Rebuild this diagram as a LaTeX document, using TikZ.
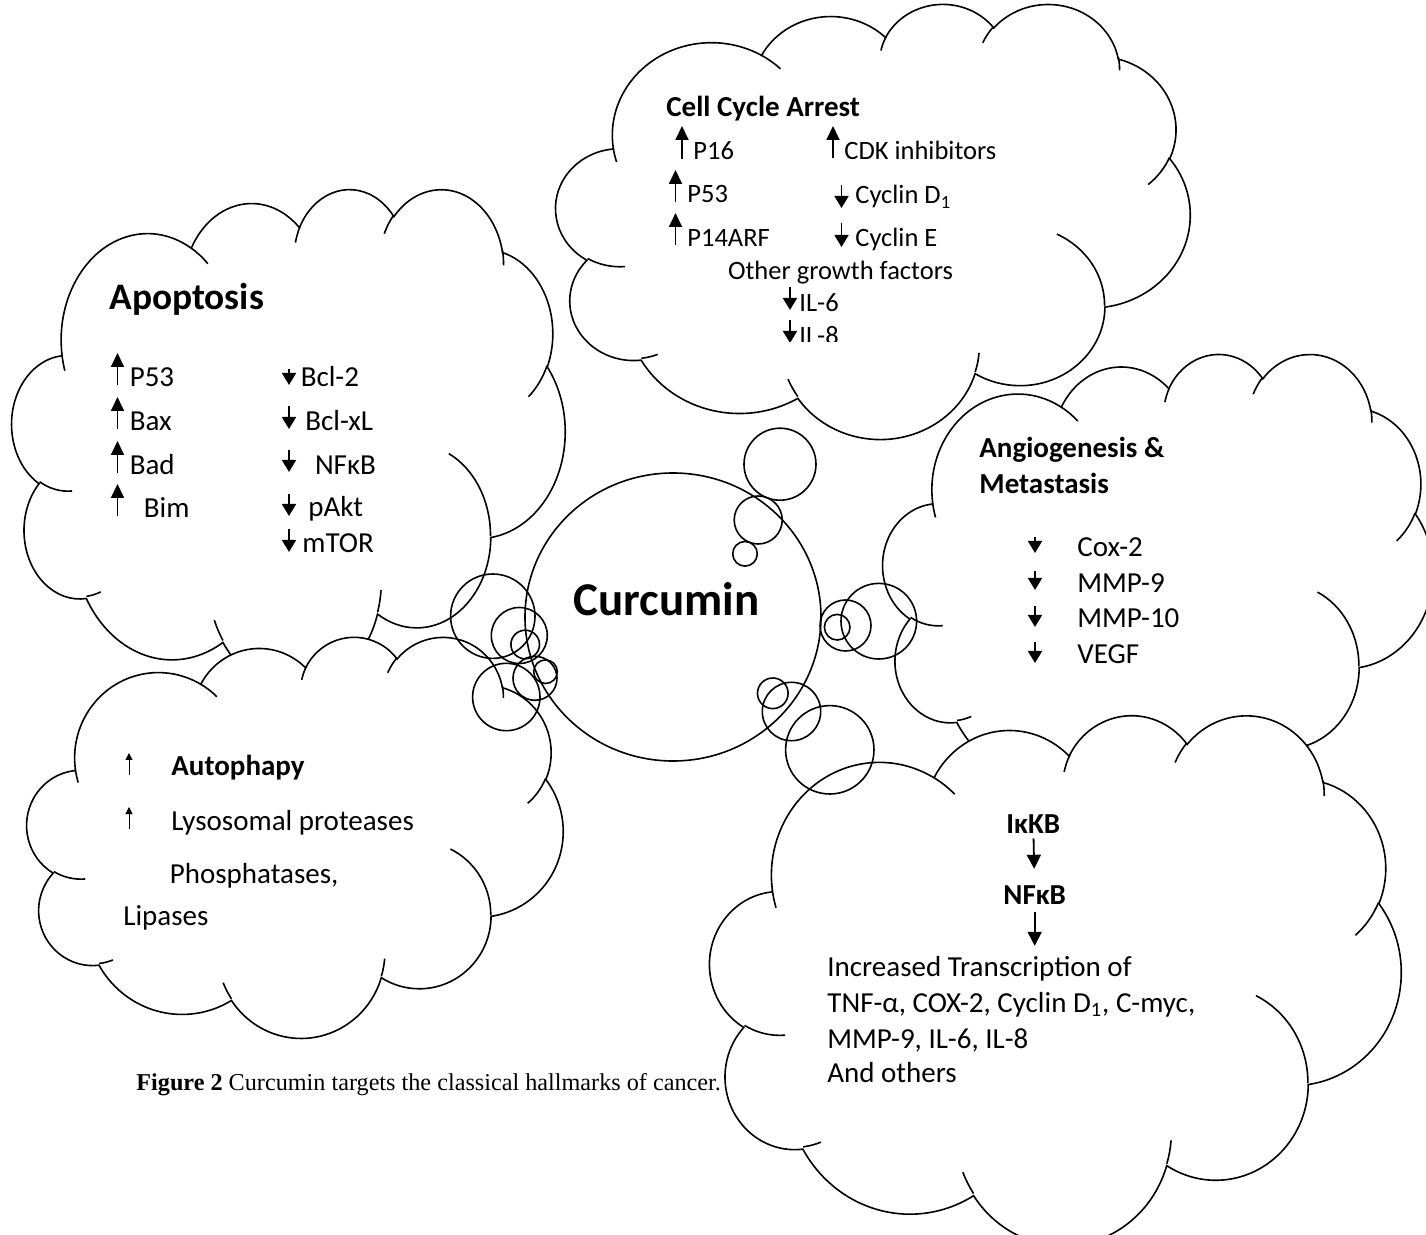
\documentclass[tikz,border=0pt]{standalone}
\usepackage{fontspec}
\setmainfont{Carlito}
\newfontfamily\figcapfont{Liberation Serif}
\usepackage{xcolor}
\usepackage{tikz}
\usetikzlibrary{
    shapes.geometric,
    arrows.meta,
    positioning,
    calc
}
% Word cloud callout, outline arcs (grid 432 x 432): rx/ry/start/sweep
\newcommand\cloudarcs{%
    67.53/91.90/-190.4875/123.7805, 53.33/72.67/-144.1024/89.9452,
    43.65/59.45/-145.8079/99.7230, 48.57/65.95/-130.9861/117.2417,
    53.33/72.73/-78.7089/109.0269, 67.75/92.20/-46.2673/130.2690,
    57.85/78.67/0.6250/114.0333, 67.52/92.15/22.4516/115.1726,
    77.20/105.43/66.2426/75.7110, 43.60/59.18/-274.9421/146.7356,
    43.45/59.45/-246.8285/152.5189}
% inner arcs of the cloud: x/y/rx/ry/start/sweep
\newcommand\cloudstubs{%
    46.93/261.77/43.45/59.45/86.7420/26.4295,
    69.28/348.99/43.60/59.18/73.6105/11.4475,
    164.78/390.90/67.52/92.15/137.6242/14.0811,
    288.27/347.51/67.52/92.15/6.4533/15.9984,
    341.29/229.54/57.85/78.67/-70.2924/70.9174,
    417.98/153.54/53.33/72.73/30.3180/27.7515,
    383.24/54.26/48.57/65.95/-13.7443/14.8589,
    290.78/39.52/48.57/65.95/-149.1815/18.1954,
    221.41/47.20/43.65/59.45/-163.4943/17.6864,
    140.00/51.92/67.53/91.90/-66.7070/12.3194,
    41.27/157.89/67.53/91.90/157.6544/11.8582}
% cloud in the box left/top/width/height (px)
\newcommand\hallmarkcloud[4]{%
    \pgfmathsetmacro\cloudxu{#3/864}%
    \pgfmathsetmacro\cloudyu{#4/864}%
    \begin{scope}[shift={(#1,#2)}, x=\cloudxu pt, y=-\cloudyu pt]
        \draw[cloudline, fill=white] (39,143.7)
            \foreach \cra/\crb/\cst/\csw in \cloudarcs {
                \pgfextra{%
                    \pgfmathsetmacro\cta{atan2(\cra*sin(\cst),\crb*cos(\cst))}%
                    \pgfmathsetmacro\ctd{mod(atan2(\cra*sin(\cst+\csw),\crb*cos(\cst+\csw))-(\cta)+720,360)}%
                }
                arc[x radius=\cra, y radius=\crb, start angle=\cta, delta angle=\ctd]
            } -- cycle;
        \foreach \cpx/\cpy/\cra/\crb/\cst/\csw in \cloudstubs {
            \pgfmathsetmacro\cta{atan2(\cra*sin(\cst),\crb*cos(\cst))}
            \pgfmathsetmacro\ctd{mod(atan2(\cra*sin(\cst+\csw),\crb*cos(\cst+\csw))-(\cta)+720,360)}
            \draw[cloudline] (\cpx,\cpy) arc[x radius=\cra, y radius=\crb, start angle=\cta, delta angle=\ctd];
        }
    \end{scope}}
\tikzset{
    % Cloud outline
    cloudline/.style={
        draw=black,
        line width=0.8pt
    },
    % Thought bubble
    bubble/.style={
        circle,
        draw=black,
        line width=0.8pt,
        inner sep=0pt,
        minimum size=#1
    },
    % Body text
    itemtext/.style={
        anchor=base west,
        inner sep=0pt,
        font=\fontsize{14.5}{17}\selectfont
    },
    % Smaller body text
    smalltext/.style={
        itemtext,
        font=\fontsize{13.25}{16}\selectfont
    },
    % Headings
    headtext/.style={
        itemtext,
        font=\fontsize{14.5}{17}\selectfont\bfseries
    },
    titletext/.style={
        itemtext,
        font=\fontsize{18.7}{22}\selectfont\bfseries
    },
    % Up / down marks
    upmark/.style={
        -{Triangle[width=6.5pt, length=7pt]},
        line width=0.9pt
    },
    downmark/.style={
        -{Triangle[width=7pt, length=6pt]},
        line width=0.9pt
    },
    thinmark/.style={
        -{Triangle[width=3.5pt, length=3.5pt]},
        line width=0.5pt
    },
    % Flow arrow
    flowarrow/.style={
        -{Triangle[width=7pt, length=7pt]},
        line width=0.9pt
    }
}
\begin{document}
\begin{tikzpicture}[x=0.5pt, y=-0.5pt]

    \useasboundingbox (0,0) rectangle (1426,1235);

    % Cell cycle arrest cloud
    \hallmarkcloud{556}{3}{634}{435}
    \node[headtext] (cctitle) at (666,117) {Cell Cycle Arrest};
    \node[smalltext] (ccp16) at (693,160) {P16};
    \node[smalltext] (ccp53) at (687,203) {P53};
    \node[smalltext] (ccp14) at (687,247) {P14ARF};
    \node[smalltext] (cccdk) at (844,160) {CDK inhibitors};
    \node[smalltext] (cccycd) at (855,204) {Cyclin D\textsubscript{1}};
    \node[smalltext] (cccyce) at (855,247) {Cyclin E};
    \node[smalltext] (ccother) at (727.6,280) {Other growth factors};
    \node[smalltext] (ccil6) at (799,312) {IL-6};
    \foreach \mx/\my/\ml in {682/159/33, 675.5/202/32, 675.5/245/32, 833/158/32}
        \draw[upmark] (\mx,\my) -- ++(0,-\ml);
    \foreach \mx/\my/\ml in {841.5/185/23, 841.5/223/24, 790/287/23}
        \draw[downmark] (\mx,\my) -- ++(0,\ml);
    % last line is cut by the text box
    \begin{scope}
        \clip (700,300) rectangle (900,342);
        \node[smalltext] (ccil8) at (799,345) {IL-8};
        \draw[downmark] (790,320) -- ++(0,23);
    \end{scope}

    % Angiogenesis cloud
    \hallmarkcloud{883}{353}{550}{450}
    \node[headtext] (angtitle) at (979,458) {Angiogenesis \&};
    \node[headtext] (angtitlb) at (979,494) {Metastasis};
    \node[itemtext] (angcox) at (1077,557) {Cox-2};
    \node[itemtext] (angmmp9) at (1077,593) {MMP-9};
    \node[itemtext] (angmmp10) at (1077,628) {MMP-10};
    \node[itemtext] (angvegf) at (1077,664) {VEGF};
    \foreach \my/\ml in {537/16, 571/19, 606/21, 642/21}
        \draw[downmark] (1035,\my) -- ++(0,\ml);

    % NFkB cloud
    \hallmarkcloud{710}{714}{691}{530}
    \node[headtext] (ikkb) at (1006,834) {IκKB};
    \node[headtext] (nfkb) at (1003,904) {NFκB};
    \node[itemtext] (trans1) at (827,976.4) {Increased Transcription of};
    \node[itemtext] (trans2) at (827,1012.3) {TNF-α, COX-2, Cyclin D\textsubscript{1}, C-myc,};
    \node[itemtext] (trans3) at (827,1048) {MMP-9, IL-6, IL-8};
    \node[itemtext] (trans4) at (827,1082) {And others};
    \draw[flowarrow, shorten <=2pt, shorten >=8pt] (ikkb) -- (nfkb);
    \draw[flowarrow, shorten <=3.8pt, shorten >=5pt] (nfkb) -- (nfkb |- trans1.north);

    % Apoptosis cloud
    \hallmarkcloud{12}{188}{553}{500}
    \node[titletext] (apotitle) at (109,310) {Apoptosis};
    \node[itemtext] (apop53) at (129.4,386.8) {P53};
    \node[itemtext] (apobax) at (129.4,430.6) {Bax};
    \node[itemtext] (apobad) at (129.4,474.4) {Bad};
    \node[itemtext] (apobim) at (143.5,517.6) {Bim};
    \node[itemtext] (apobcl2) at (300.4,387) {Bcl-2};
    \node[itemtext] (apobclxl) at (305,430.6) {Bcl-xL};
    \node[itemtext] (aponfkb) at (314.6,474.4) {NFκB};
    \node[itemtext] (apopakt) at (308,516.5) {pAkt};
    \node[itemtext] (apomtor) at (302,553) {mTOR};
    \foreach \my in {385, 429, 473, 516}
        \draw[upmark] (117.5,\my) -- ++(0,-32);
    \foreach \my/\ml in {369/16, 406/23, 450/22, 494/22, 529/23}
        \draw[downmark] (289,\my) -- ++(0,\ml);

    % Autophagy cloud
    \hallmarkcloud{27}{636}{536}{401}
    \node[headtext] (autotitle) at (171,776) {Autophapy};
    \node[itemtext] (autolyso) at (171,830) {Lysosomal proteases};
    \node[itemtext] (autophos) at (169.5,883) {Phosphatases,};
    \node[itemtext] (autolip) at (123,925) {Lipases};
    \foreach \my in {775, 829}
        \draw[thinmark] (129,\my) -- ++(0,-22);

    % Curcumin
    \node[ellipse, draw=black, line width=0.8pt, minimum width=148pt, minimum height=144pt, inner sep=0pt] (curcumin) at (673,617) {};
    \node[font=\fontsize{23.5}{28}\selectfont\bfseries, anchor=base, inner sep=0pt] (curcuminlabel) at (666.5,616) {Curcumin};

    % Thought bubbles towards curcumin
    \node[bubble=36pt] (ccbub1) at (780,464.2) {};
    \node[bubble=24pt] (ccbub2) at (758.2,520) {};
    \node[bubble=12.3pt] (ccbub3) at (745,553.8) {};
    \node[bubble=42.2pt] (apobub1) at (492.8,616.2) {};
    \node[bubble=28pt] (apobub2) at (519.3,635.5) {};
    \node[bubble=14.3pt] (apobub3) at (525.2,644.5) {};
    \node[bubble=37.8pt] (angbub1) at (878.8,621.2) {};
    \node[bubble=25.5pt] (angbub2) at (845.5,625.5) {};
    \node[bubble=12.8pt] (angbub3) at (837.2,627.2) {};
    \node[bubble=44.2pt] (nfbub1) at (829.8,749.8) {};
    \node[bubble=29.2pt] (nfbub2) at (791.5,711.5) {};
    \node[bubble=15.3pt] (nfbub3) at (772.8,693.3) {};
    \node[bubble=33.7pt] (autobub1) at (506.3,697) {};
    \node[bubble=22pt] (autobub2) at (535,678.3) {};
    \node[bubble=11.8pt] (autobub3) at (545.5,671.7) {};

    % Caption
    \node[anchor=base west, inner sep=0pt, font=\figcapfont\fontsize{12.1}{14}\selectfont] (caption) at (136,1090) {\textbf{Figure 2} Curcumin targets the classical hallmarks of cancer.};

\end{tikzpicture}
\end{document}
